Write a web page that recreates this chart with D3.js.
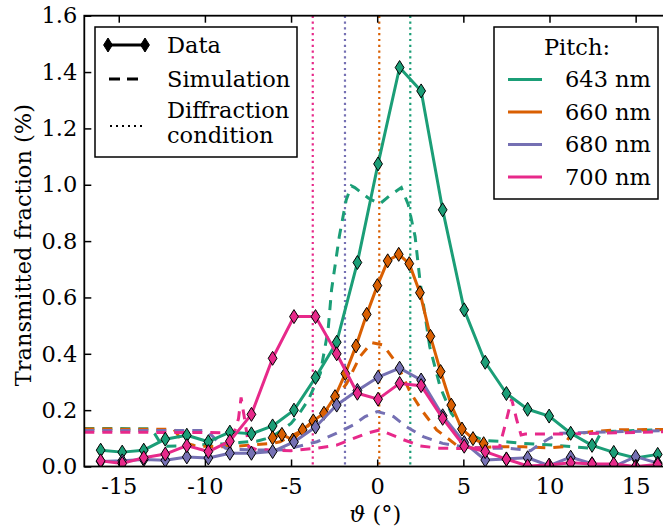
<!DOCTYPE html>
<html>
<head>
<meta charset="utf-8">
<script src="https://cdn.jsdelivr.net/npm/d3@7"></script>
<style>
  html, body { margin: 0; padding: 0; background: #fff; }
  svg { display: block; }
</style>
</head>
<body>
<svg id="chart" width="663" height="529"></svg>
<script>
// Measured incidence angles (degrees) for the 1.25° scans
const angle = [-16.05, -14.8, -13.55, -12.3, -11.05, -9.8, -8.55, -7.3, -6.07, -4.83, -3.58, -2.35, -1.15,
  0.05, 1.3, 2.55, 3.8, 5.05, 6.27, 7.5, 8.73, 9.98, 11.23, 12.47, 13.73, 15.0, 16.28];
// Finer scan used for the 660 nm sample
const angle660 = [-6.07, -5.53, -4.9, -4.33, -3.71, -3.09, -2.45, -1.85, -1.23, -0.61, 0.01, 0.61, 1.25,
  1.86, 2.48, 3.09, 3.68, 4.3, 4.92, 5.56, 6.18];

// Measured transmitted fraction (%)
const data643 = [0.058, 0.051, 0.058, 0.097, 0.111, 0.088, 0.122, 0.116, 0.144, 0.2, 0.316, 0.441, 0.724,
  1.074, 1.416, 1.333, 0.911, 0.556, 0.37, 0.259, 0.203, 0.179, 0.118, 0.075, 0.05, 0.03, 0.043];
const data660 = [0.102, 0.114, 0.094, 0.13, 0.162, 0.189, 0.248, 0.33, 0.428, 0.54, 0.642, 0.73, 0.753,
  0.72, 0.617, 0.462, 0.337, 0.218, 0.133, 0.099, 0.081];
const data680 = [0.018, 0.02, 0.025, 0.022, 0.034, 0.03, 0.047, 0.047, 0.053, 0.087, 0.14, 0.218, 0.27,
  0.317, 0.349, 0.307, 0.18, 0.085, 0.023, 0.027, 0.031, 0.003, 0.033, 0.01, 0.0, 0.035, 0.012];
const data700 = [0.02, 0.011, 0.031, 0.044, 0.074, 0.053, 0.09, 0.185, 0.384, 0.532, 0.532, 0.4, 0.26,
  0.239, 0.295, 0.287, 0.171, 0.072, 0.053, 0.026, 0.002, 0.005, 0.013, 0.009, 0.009, 0.0, 0.007];

// Simulated spectra (angle, transmitted fraction)
const simAngle643 = [-17, -13.2, -12.9, -12.6, -12.2, -11, -10, -9, -8, -7, -6.5, -6, -5.5, -5, -4.5, -4,
  -3.3, -2.85, -2.65, -2.2, -1.8, -1.5, -1.3, -0.5, 0.15, 0.8, 1.4, 1.8, 2.2, 2.5, 3.05, 3.65, 4.3, 5.2,
  6.2, 7.4, 8.5, 9.1, 10.2, 11, 12.3, 12.6, 12.9, 13.3, 17];
const sim643 = [0.135, 0.134, 0.115, 0.085, 0.072, 0.074, 0.078, 0.08, 0.085, 0.09, 0.098, 0.11, 0.13,
  0.153, 0.19, 0.236, 0.331, 0.485, 0.627, 0.816, 0.946, 0.996, 0.99, 0.952, 0.932, 0.965, 0.99, 0.93,
  0.816, 0.65, 0.425, 0.283, 0.189, 0.118, 0.092, 0.088, 0.082, 0.08, 0.076, 0.072, 0.065, 0.075, 0.11,
  0.124, 0.132];
const simAngle660 = [-17, -11.8, -11.5, -11.2, -10.5, -9, -8, -7, -6, -5.64, -4.29, -2.93, -1.77, -1.0,
  -0.32, 0.35, 1.13, 1.9, 2.58, 3.45, 4.6, 5.58, 6.74, 8.5, 10, 10.8, 11.1, 11.5, 12.5, 14, 17];
const sim660 = [0.133, 0.132, 0.106, 0.085, 0.072, 0.07, 0.073, 0.078, 0.083, 0.088, 0.13, 0.2, 0.295,
  0.39, 0.44, 0.431, 0.366, 0.266, 0.2, 0.13, 0.076, 0.065, 0.07, 0.07, 0.066, 0.07, 0.1, 0.115, 0.124,
  0.13, 0.132];
const simAngle680 = [-17, -10, -9.6, -9.2, -8.8, -8, -6, -5.4, -3.5, -2.35, -1.4, -0.7, 0, 0.75, 0.95,
  1.7, 2.67, 3.8, 5, 6.2, 7.5, 8.5, 8.9, 9.5, 10, 10.6, 11.7, 17];
const sim680 = [0.128, 0.128, 0.11, 0.085, 0.065, 0.06, 0.058, 0.059, 0.088, 0.118, 0.147, 0.177, 0.195,
  0.183, 0.177, 0.141, 0.106, 0.082, 0.07, 0.065, 0.065, 0.059, 0.056, 0.082, 0.1, 0.118, 0.12, 0.128];
const simAngle700 = [-17, -8.3, -8.05, -7.9, -7.7, -7.45, -7, -5, -3.5, -2.35, -0.6, 0.15, 1.1, 1.3, 2.5,
  3.6, 5, 7.1, 7.5, 7.8, 8.1, 8.35, 8.6, 11, 17];
const sim700 = [0.122, 0.12, 0.17, 0.245, 0.17, 0.07, 0.06, 0.056, 0.065, 0.076, 0.118, 0.13, 0.106, 0.1,
  0.073, 0.065, 0.064, 0.07, 0.165, 0.24, 0.165, 0.112, 0.115, 0.115, 0.124];

// Angles of the first diffraction order grazing condition for each pitch
const diffAngle = [1.92, 0.12, -1.87, -3.74];

const pitchLabels = ["643 nm", "660 nm", "680 nm", "700 nm"];
const colors = ["#1b9e77", "#d95f02", "#7570b3", "#e7298a"];
const xTicks = [-15, -10, -5, 0, 5, 10, 15];
const yTicks = [0.0, 0.2, 0.4, 0.6, 0.8, 1.0, 1.2, 1.4, 1.6];

const series = [
  { ang: angle, val: data643, sAng: simAngle643, sVal: sim643 },
  { ang: angle660, val: data660, sAng: simAngle660, sVal: sim660 },
  { ang: angle, val: data680, sAng: simAngle680, sVal: sim680 },
  { ang: angle, val: data700, sAng: simAngle700, sVal: sim700 }
];

const FONT = "'DejaVu Serif'";
const fs = 22.5;
const svg = d3.select("#chart");
const pL = 84.3, pR = 670.1, pT = 15.7, pB = 466.5;
const x = d3.scaleLinear().domain([-17, 17]).range([pL, pR]);
const y = d3.scaleLinear().domain([0, 1.6]).range([pB, pT]);

svg.append("defs").append("clipPath").attr("id", "plotclip")
  .append("rect").attr("x", pL).attr("y", pT).attr("width", pR - pL).attr("height", pB - pT);

const plot = svg.append("g").attr("clip-path", "url(#plotclip)");

// Diffraction-condition markers
diffAngle.forEach((a, i) => {
  plot.append("line")
    .attr("x1", x(a)).attr("x2", x(a)).attr("y1", pT).attr("y2", pB)
    .attr("stroke", colors[i]).attr("stroke-width", 2.2)
    .attr("stroke-dasharray", "2.2,3.6");
});

const line = d3.line().x(d => x(d[0])).y(d => y(d[1]));

// Simulations
series.forEach((s, i) => {
  plot.append("path")
    .datum(d3.zip(s.sAng, s.sVal))
    .attr("d", line)
    .attr("fill", "none").attr("stroke", colors[i]).attr("stroke-width", 3)
    .attr("stroke-dasharray", "10,8");
});

const diamond = (cx, cy) => `M${cx},${cy - 7}L${cx + 4.4},${cy}L${cx},${cy + 7}L${cx - 4.4},${cy}Z`;

// Measurements
series.forEach((s, i) => {
  const pts = d3.zip(s.ang, s.val);
  plot.append("path")
    .datum(pts)
    .attr("d", line)
    .attr("fill", "none").attr("stroke", colors[i]).attr("stroke-width", 3)
    .attr("stroke-linejoin", "round");
  plot.selectAll(null).data(pts).enter().append("path")
    .attr("d", d => diamond(x(d[0]), y(d[1])))
    .attr("fill", colors[i]).attr("stroke", "#000").attr("stroke-width", 1);
});

// Axes
const xAxis = d3.axisBottom(x).tickValues(xTicks).tickFormat(d3.format("d"))
  .tickSizeInner(-7).tickSizeOuter(0).tickPadding(12);
const gx = svg.append("g").attr("transform", `translate(0,${pB})`).call(xAxis);
const xTop = d3.axisTop(x).tickValues(xTicks).tickFormat("").tickSizeInner(-7).tickSizeOuter(0);
const gxt = svg.append("g").attr("transform", `translate(0,${pT})`).call(xTop);
const yAxis = d3.axisLeft(y).tickValues(yTicks).tickFormat(d3.format(".1f"))
  .tickSizeInner(-7).tickSizeOuter(0).tickPadding(7);
const gy = svg.append("g").attr("transform", `translate(${pL},0)`).call(yAxis);
const yRight = d3.axisRight(y).tickValues(yTicks).tickFormat("").tickSizeInner(-7).tickSizeOuter(0);
const gyr = svg.append("g").attr("transform", `translate(${pR},0)`).call(yRight);

[gx, gxt, gy, gyr].forEach(g => {
  g.attr("font-family", FONT).attr("font-size", fs);
  g.select(".domain").remove();
  g.selectAll(".tick line").attr("stroke", "#000").attr("stroke-width", 1.5);
  g.selectAll(".tick text").attr("font-family", FONT).attr("font-size", fs).attr("fill", "#000");
});
gx.selectAll(".tick text").text(d => String(d));

// Frame
svg.append("rect").attr("x", pL).attr("y", pT).attr("width", pR - pL).attr("height", pB - pT)
  .attr("fill", "none").attr("stroke", "#000").attr("stroke-width", 1.8);

// Axis titles
svg.append("text")
  .attr("transform", `translate(23,${(pT + pB) / 2 + 4}) rotate(-90)`)
  .attr("text-anchor", "middle").attr("dy", "0.35em").attr("font-size", fs).attr("font-family", FONT)
  .text("Transmitted fraction (%)");
const xl = svg.append("text").attr("x", x(0) - 2).attr("y", 522).attr("text-anchor", "middle")
  .attr("font-size", fs).attr("font-family", FONT);
xl.append("tspan").attr("font-style", "italic").text("ϑ");
xl.append("tspan").text(" (°)");

// Legend: line styles
const lg1 = svg.append("g");
lg1.append("rect").attr("x", 95).attr("y", 27).attr("width", 202).attr("height", 130)
  .attr("fill", "#fff").attr("stroke", "#000").attr("stroke-width", 1.5);
lg1.append("line").attr("x1", 108).attr("x2", 145).attr("y1", 45).attr("y2", 45)
  .attr("stroke", "#000").attr("stroke-width", 3);
[108, 145].forEach(cx => lg1.append("path").attr("d", diamond(cx, 45)).attr("fill", "#000").attr("stroke", "#000"));
lg1.append("line").attr("x1", 109).attr("x2", 145).attr("y1", 79).attr("y2", 79)
  .attr("stroke", "#000").attr("stroke-width", 3).attr("stroke-dasharray", "11,7");
lg1.append("line").attr("x1", 110).attr("x2", 145).attr("y1", 126).attr("y2", 126)
  .attr("stroke", "#000").attr("stroke-width", 2).attr("stroke-dasharray", "2,4");
[["Data", 45], ["Simulation", 79], ["Diffraction", 110], ["condition", 135]].forEach(([t, yy]) => {
  lg1.append("text").attr("x", 167).attr("y", yy).attr("dy", "0.35em")
    .attr("font-family", FONT).attr("font-size", fs).text(t);
});

// Legend: pitch colours
const lg2 = svg.append("g");
lg2.append("rect").attr("x", 494).attr("y", 27).attr("width", 164).attr("height", 172)
  .attr("fill", "#fff").attr("stroke", "#000").attr("stroke-width", 1.5);
lg2.append("text").attr("x", 577).attr("y", 47).attr("dy", "0.35em").attr("text-anchor", "middle")
  .attr("font-family", FONT).attr("font-size", fs).text("Pitch:");
const rowY = [79.5, 112, 144.5, 177];
pitchLabels.forEach((lab, i) => {
  lg2.append("line").attr("x1", 508).attr("x2", 542).attr("y1", rowY[i]).attr("y2", rowY[i])
    .attr("stroke", colors[i]).attr("stroke-width", 3);
  lg2.append("text").attr("x", 565).attr("y", rowY[i]).attr("dy", "0.35em")
    .attr("font-family", FONT).attr("font-size", fs).text(lab);
});
</script>
</body>
</html>
